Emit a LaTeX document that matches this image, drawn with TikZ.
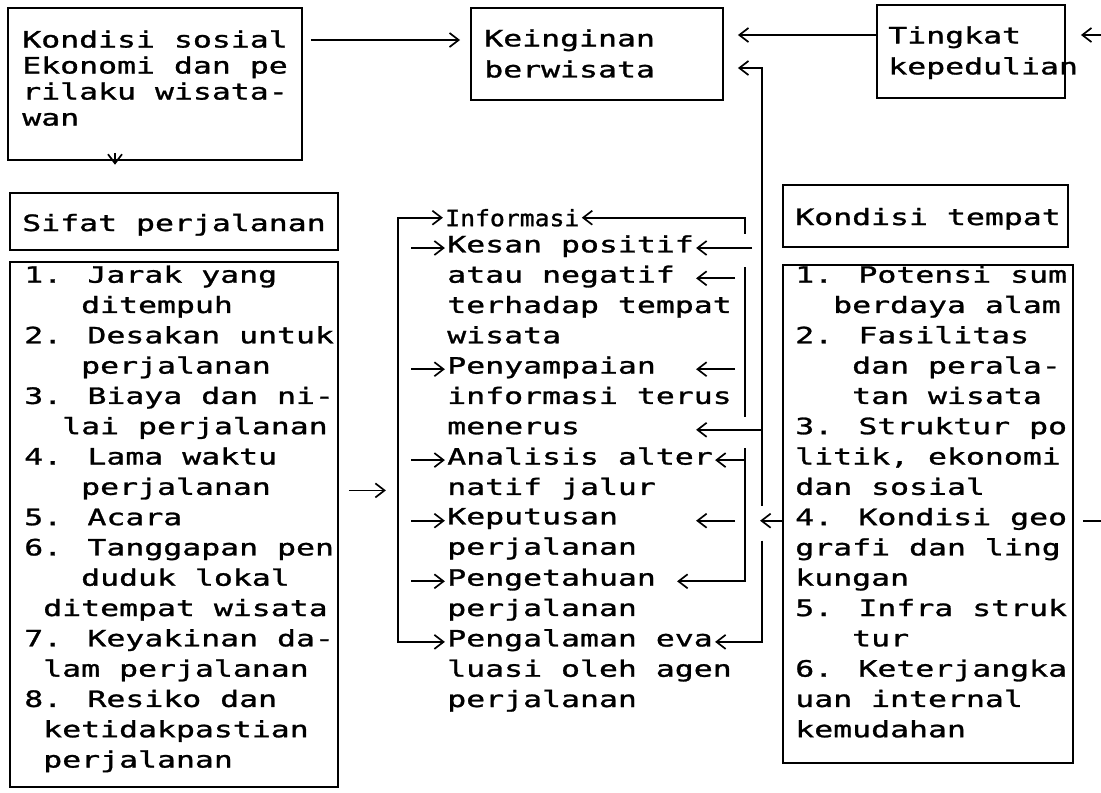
\documentclass[tikz,border=0pt]{standalone}
\usepackage{fontspec}
\usetikzlibrary{arrows.meta,calc,fit}
\newfontfamily\mesin[FakeStretch=1.4,FakeBold=1.2]{DejaVu Sans Mono}
\newfontfamily\mesinrapat[FakeStretch=1.1,FakeBold=1.2]{DejaVu Sans Mono}
\newlength\chw
\newcommand\ind[1]{\hspace*{#1\chw}}
\tikzset{
  kotak/.style={draw, line width=1.2pt, inner sep=0pt},
  garis/.style={line width=1.2pt},
  panah/.style={line width=1.2pt, -{Straight Barb[length=6.5pt,width=10pt]}, shorten >=1.5pt},
  teks/.style={inner sep=0pt, anchor=north west, align=left,
    font=\mesin\fontsize{16}{21.55}\selectfont, execute at begin node=\strut},
  teksatas/.style={teks, font=\mesin\fontsize{16}{22.05}\selectfont}
}
\begin{document}
\settowidth\chw{\mesin\fontsize{16}{20}\selectfont 0}
\begin{tikzpicture}[x=0.025cm, y=-0.025cm, declare function={ry(\k)=248+30.3*\k;}]
            \fill[white] (0,0) rectangle (1101,792);
            \useasboundingbox (0,0) rectangle (1101,792);

            % Baris dan jalur bantu
            \foreach \k in {-1,...,17}
                \coordinate (r\k) at (0,{ry(\k)});
            \coordinate (brk) at (398,0);
            \coordinate (bus) at (745,0);
            \coordinate (lane) at (762,0);
            \coordinate (ya) at (0,40);
            \coordinate (yb1) at (0,35);
            \coordinate (yb2) at (0,68);
            \coordinate (edge-in) at (1101,35);
            \coordinate (edge-out) at (1101,{ry(9)});

            % Kotak atas
            \node[kotak, fit={(8,8) (302,160)}] (kondisi) {};
            \node[teks, font=\mesin\fontsize{16}{18.5}\selectfont] (kondisi-t) at (22,30)
                {Kondisi sosial\\Ekonomi dan pe\\rilaku wisata-\\wan};
            \node[kotak, fit={(471,8) (723,100)}] (keinginan) {};
            \node[teksatas] (keinginan-t) at (484,29) {Keinginan\\berwisata};
            \node[kotak, fit={(877,5) (1065,98)}] (kepedulian) {};
            \node[teksatas] (kepedulian-t) at (888,26) {Tingkat\\kepedulian};

            % Judul kolom
            \node[kotak, fit={(10,193) (338,250)}] (sifat) {};
            \node[teks, anchor=base west] (sifat-t) at (22,231) {Sifat perjalanan};
            \node[kotak, fit={(783,185) (1068,247)}] (tempat) {};
            \node[teks, anchor=base west] (tempat-t) at (795,225) {Kondisi tempat};

            % Daftar kiri
            \node[kotak, fit={(10,262) (338,787)}] (sifatlist) {};
            \node[teks] (sifatlist-t) at (24,{ry(1)-13})
                {1. Jarak yang\\\ind{3}ditempuh\\2. Desakan untuk\\\ind{3}perjalanan\\
                 3. Biaya dan ni-\\\ind{2}lai perjalanan\\4. Lama waktu\\\ind{3}perjalanan\\
                 5. Acara\\6. Tanggapan pen\\\ind{3}duduk lokal\\\ind{1}ditempat wisata\\
                 7. Keyakinan da-\\\ind{1}lam perjalanan\\8. Resiko dan\\
                 \ind{1}ketidakpastian\\\ind{1}perjalanan};

            % Daftar kanan
            \node[kotak, fit={(783,265) (1073,763)}] (tempatlist) {};
            \node[teks] (tempatlist-t) at (795,{ry(1)-13})
                {1. Potensi sum\\\ind{2}berdaya alam\\2. Fasilitas\\\ind{3}dan perala-\\
                 \ind{3}tan wisata\\3. Struktur po\\litik, ekonomi\\dan sosial\\
                 4. Kondisi geo\\grafi dan ling\\kungan\\5. Infra struk\\\ind{3}tur\\
                 6. Keterjangka\\uan internal\\kemudahan};

            % Kolom tengah
            \node[teks, font=\mesinrapat\fontsize{16}{21.55}\selectfont] (informasi) at (445,{ry(-1)-13}) {Informasi};
            \node[teks] (kesan) at (447,{ry(0)-13}) {Kesan positif\\atau negatif\\terhadap tempat\\wisata};
            \node[teks] (penyampaian) at (447,{ry(4)-13}) {Penyampaian\\informasi terus\\menerus};
            \node[teks] (analisis) at (447,{ry(7)-13}) {Analisis alter\\natif jalur};
            \node[teks] (keputusan) at (447,{ry(9)-13}) {Keputusan\\perjalanan};
            \node[teks] (pengetahuan) at (447,{ry(11)-13}) {Pengetahuan\\perjalanan};
            \node[teks] (pengalaman) at (447,{ry(13)-13}) {Pengalaman eva\\luasi oleh agen\\perjalanan};

            % Panah atas
            \draw[panah] ($(kondisi.east |- ya)+(8,0)$) -- ($(keinginan.west |- ya)+(-8,0)$);
            \draw[panah] (kepedulian.west |- yb1) -- ($(keinginan.east |- yb1)+(12,0)$);
            \draw[panah] (edge-in) -- ($(kepedulian.east |- yb1)+(13,0)$);
            \draw[panah] ($(kondisi.south -| 115,0)+(0,-8)$) -- ($(kondisi.south -| 115,0)+(0,6)$);

            % Jalur kanan ke Keinginan dan Pengalaman
            \draw[panah] ($(lane |- r9)+(0,-15)$) |- ($(keinginan.east |- yb2)+(12,0)$);
            \draw[panah] ($(lane |- r9)+(0,20)$) |- ($(pengalaman.west |- r13)+(266,0)$);
            \draw[panah] (tempatlist.west |- r9) -- ($(lane |- r9)+(-4,0)$);
            \draw[garis] ($(tempatlist.east |- r9)+(9,0)$) -- (edge-out);

            % Panah masuk dari kanan
            \draw[panah] ($(bus |- r-1)+(0,16)$) |- (informasi.east |- r-1);
            \draw[panah] ($(bus |- r0)+(7,0)$) -- ($(kesan.west |- r0)+(247,0)$);
            \draw[panah] ($(bus |- r1)+(-10,0)$) -- ($(kesan.west |- r1)+(247,0)$);
            \draw[garis] ($(bus |- r1)+(0,-11)$) -- ($(bus |- r6)+(0,-13)$);
            \draw[panah] ($(bus |- r4)+(-10,0)$) -- ($(penyampaian.west |- r4)+(247,0)$);
            \draw[panah] (lane |- r6) -- ($(penyampaian.west |- r6)+(247,0)$);
            \draw[panah] (bus |- r7) -- ($(analisis.west |- r7)+(266,0)$);
            \draw[panah] ($(bus |- r9)+(-10,0)$) -- ($(keputusan.west |- r9)+(247,0)$);
            \draw[panah] ($(bus |- r7)+(0,-12)$) |- ($(pengetahuan.west |- r11)+(228,0)$);

            % Panah dari Sifat perjalanan
            \draw[panah] ($(sifatlist.east |- r8)+(10,0)$) -- ($(brk |- r8)+(-10,0)$);
            \draw[panah] (brk |- r8) |- (informasi.west |- r-1);
            \draw[panah] (brk |- r8) |- (pengalaman.west |- r13);
            \foreach \n/\k in {kesan/0, penyampaian/4, analisis/7, keputusan/9, pengetahuan/11}
                \draw[panah] ($(\n.west |- r\k)+(-36,0)$) -- (\n.west |- r\k);
\end{tikzpicture}
\end{document}
